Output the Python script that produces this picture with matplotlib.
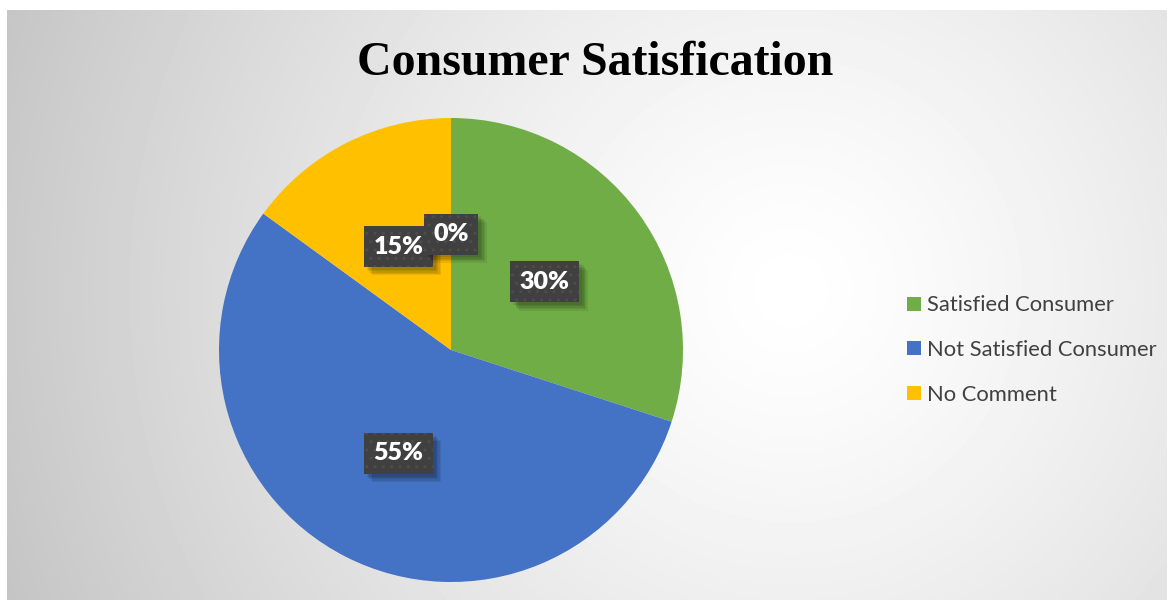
import numpy as np
import matplotlib.pyplot as plt
from matplotlib import patheffects
from matplotlib.lines import Line2D

#initialize chart data
categories = ["Satisfied Consumer", "Not Satisfied Consumer", "No Comment", ""]
shares = [30, 55, 15, 0]
colors = ["#70AD47", "#4472C4", "#FFC000", "#A5A5A5"]
title = "Consumer Satisfication"


#patch shadow that skips the hatch of the patch it follows
class SoftShadow(patheffects.SimplePatchShadow):
    def draw_path(self, renderer, gc, tpath, affine, rgbFace):
        gc0 = renderer.new_gc()
        gc0.copy_properties(gc)
        gc0.set_hatch(None)
        super().draw_path(renderer, gc0, tpath, affine, rgbFace)
        gc0.restore()


#figure size in pixels at dpi 100
W, H = 1176, 603
fig = plt.figure(figsize=(W / 100, H / 100), dpi=100)
fig.patch.set_facecolor("white")

#chart area with a soft radial gray gradient (pixel coords, y from top)
x0, x1, ytop, ybot = 7, 1167, 10, 600
bg_ax = fig.add_axes([x0 / W, 1 - ybot / H, (x1 - x0) / W, (ybot - ytop) / H])
xx, yy = np.meshgrid(np.arange(x0, x1), np.arange(ytop, ybot))
dist = np.hypot(xx - 790, yy - 290)
shade = 1 - 0.23 * (dist / dist.max()) ** 1.3
bg_ax.imshow(shade, cmap="gray", vmin=0, vmax=1, aspect="auto",
             interpolation="bilinear")
bg_ax.set_axis_off()

#pie axes: center (451, 350), radius 232 px
cx, cy, r = 451, 350, 232
pie_ax = fig.add_axes([(cx - r) / W, 1 - (cy + r) / H, 2 * r / W, 2 * r / H])
pie_ax.set_facecolor("none")

wedges, texts, autotexts = pie_ax.pie(
    shares, colors=colors, startangle=90, counterclock=False,
    autopct=lambda p: "%d%%" % round(p), pctdistance=0.5,
    wedgeprops=dict(linewidth=0),
    textprops=dict(color="white", fontsize=18, fontweight="heavy",
                   family=["Lato", "DejaVu Sans"]))
pie_ax.set_xlim(-1, 1)
pie_ax.set_ylim(-1, 1)

#soft drop shadow built from a few faint offset copies
shadow = [SoftShadow(offset=(d, -d), shadow_rgbFace="black", alpha=0.08)
          for d in (6, 5, 4, 3, 2)]

#dark dotted label boxes
for t in autotexts:
    t.set_bbox(dict(boxstyle="square,pad=0.38", facecolor="#404040",
                    edgecolor="#4d4d4d", linewidth=0, hatch=".."))
    t.get_bbox_patch().set_path_effects(shadow + [patheffects.Normal()])

#title
fig.text(595 / W, 1 - 75 / H, title, ha="center", va="baseline",
         fontsize=34.5, fontweight="bold", family="Liberation Serif")

#legend with the three named categories
handles = [Line2D([], [], marker="s", linestyle="none", markersize=9.5,
                  markerfacecolor=c, markeredgewidth=0)
           for c in colors[:3]]
fig.legend(handles, categories[:3], loc="center left",
           bbox_to_anchor=(906 / W, 1 - 350 / H), frameon=False,
           prop=dict(family="Lato", size=15.8), labelcolor="#404040",
           handlelength=0.75, handletextpad=0.2, labelspacing=1.12,
           borderpad=0, borderaxespad=0)

fig.savefig("out.png", dpi=100, facecolor=fig.get_facecolor())
